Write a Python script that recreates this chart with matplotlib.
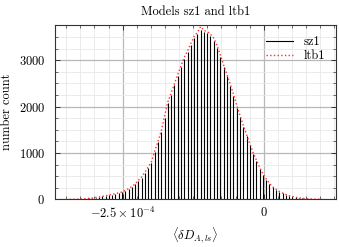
import numpy as np
import matplotlib
matplotlib.use("Agg")
import matplotlib.pyplot as plt
from matplotlib.lines import Line2D
from matplotlib.ticker import MultipleLocator, FuncFormatter

plt.rcParams['font.family'] = 'serif'
plt.rcParams['font.serif'] = ['cmr10', 'DejaVu Serif']
plt.rcParams['mathtext.fontset'] = 'cm'
plt.rcParams['axes.formatter.use_mathtext'] = True
plt.rcParams['font.size'] = 9

# histogram range and counts
bin_lo, bin_hi = -3.47e-4, 1.06e-4
sz1_counts = [0, 1, 2, 4, 8, 14, 20, 27, 35, 45,
              62, 75, 90, 102, 118, 135, 152, 185, 222, 268,
              320, 400, 470, 570, 680, 790, 1020, 1230, 1450, 1760,
              2080, 2260, 2460, 2660, 2850, 3030, 3170, 3320, 3480, 3560,
              3650, 3610, 3590, 3520, 3420, 3260, 3060, 2850, 2650, 2440,
              2220, 1980, 1770, 1560, 1360, 1170, 980, 820, 660, 530,
              420, 330, 260, 210, 165, 130, 100, 78, 60, 42,
              30, 22, 15, 10, 6, 4, 2, 1]
ltb1_counts = [0, 1, 3, 5, 9, 15, 22, 28, 38, 48,
               64, 78, 92, 106, 122, 140, 158, 190, 230, 275,
               330, 410, 480, 585, 700, 810, 1040, 1250, 1480, 1790,
               2100, 2290, 2490, 2690, 2880, 3060, 3200, 3360, 3510, 3600,
               3725, 3640, 3620, 3560, 3475, 3320, 3120, 2900, 2700, 2490,
               2270, 2030, 1810, 1600, 1400, 1200, 1010, 850, 690, 550,
               440, 345, 270, 218, 172, 135, 104, 80, 62, 44,
               32, 23, 16, 11, 7, 4, 2, 1]

edges = np.linspace(bin_lo, bin_hi, len(sz1_counts) + 1)
centers = 0.5 * (edges[:-1] + edges[1:])

fig = plt.figure(figsize=(3.39, 2.47), dpi=100)
ax = fig.add_axes([0.162, 0.193, 0.829, 0.706])

ax.vlines(centers, 0, sz1_counts, color='black', linewidth=0.8, zorder=2)
ax.plot(centers, ltb1_counts, color='#ff3030', linestyle=':',
        linewidth=1.0, zorder=3)

ax.set_xlim(-3.7e-4, 1.28e-4)
ax.set_ylim(0, 3760)

ax.xaxis.set_major_locator(MultipleLocator(2.5e-4))
ax.xaxis.set_minor_locator(MultipleLocator(2.5e-5))
ax.yaxis.set_major_locator(MultipleLocator(1000))
ax.yaxis.set_minor_locator(MultipleLocator(250))


def xfmt(v, pos):
    if abs(v) < 1e-9:
        return r'$0$'
    return r'$%g\times10^{-4}$' % (v / 1e-4)


ax.xaxis.set_major_formatter(FuncFormatter(xfmt))

ax.tick_params(which='both', direction='in', top=True, right=True,
               colors='#333333', labelcolor='black')
ax.tick_params(which='major', length=3.5, width=0.7)
ax.tick_params(which='minor', length=2, width=0.5)
ax.tick_params(axis='x', pad=5)
ax.tick_params(axis='y', pad=7)

ax.grid(which='major', color='#b8b8b8', linewidth=0.9, zorder=0)
ax.grid(which='minor', color='#e8e8e8', linewidth=0.6, zorder=0)
ax.set_axisbelow(True)
for s in ax.spines.values():
    s.set_color('#333333')
    s.set_linewidth(0.8)

ax.set_title('Models sz1 and ltb1', fontsize=9, pad=7)
ax.set_xlabel(r'$\langle \delta D_{A,ls} \rangle$', labelpad=3)
ax.set_ylabel('number count', labelpad=4)

handles = [Line2D([], [], color='black', linewidth=0.8),
           Line2D([], [], color='#ff3030', linestyle=':', linewidth=1.0)]
ax.legend(handles, ['sz1', 'ltb1'], loc='upper right', frameon=False,
          handlelength=2.2, borderaxespad=0.5, labelspacing=0.15)

fig.savefig('out.png', dpi=100)
